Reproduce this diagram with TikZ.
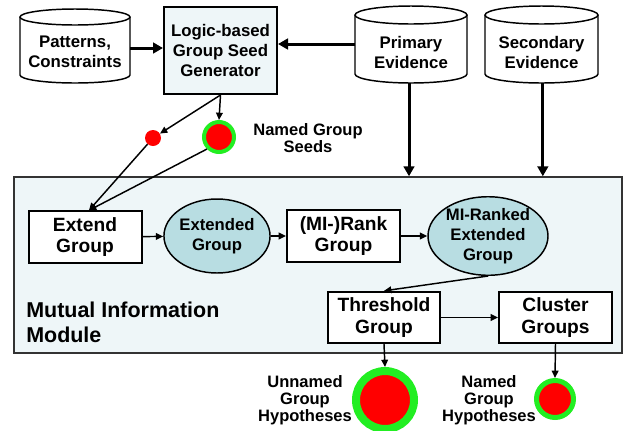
\documentclass[tikz,border=0pt]{standalone}
\usepackage{fontspec}
\setmainfont{Liberation Sans}
\usetikzlibrary{arrows.meta,shapes.geometric}
\definecolor{boxfill}{HTML}{EEF6F8}
\definecolor{ellfill}{HTML}{B8DDE2}
\definecolor{seedgreen}{HTML}{22EE22}
\tikzset{
  cylline/.style={draw=black, line width=1.1pt, fill=white},
  cyltext/.style={inner sep=0pt, minimum height=48pt, align=center, font=\fontsize{12.6pt}{15pt}\selectfont\bfseries},
  procbox/.style={draw=black, line width=1.5pt, fill=white, inner sep=0pt, align=center, minimum width=84.75pt, minimum height=38.5pt, font=\fontsize{14.4pt}{16.3pt}\selectfont\bfseries},
  ellnode/.style={ellipse, draw=black, line width=1.1pt, fill=ellfill, inner sep=0pt, align=center, font=\fontsize{12.5pt}{15pt}\selectfont\bfseries},
  lbl/.style={inner sep=0pt, align=center, font=\fontsize{12.4pt}{12.8pt}\selectfont\bfseries},
  thickarr/.style={line width=2.25pt, -{Triangle[length=7.5pt,width=8pt]}},
  thinarr/.style={line width=1.1pt, -{Triangle[length=5.5pt,width=5pt]}},
  seed/.style={circle, fill=red, draw=seedgreen, inner sep=0pt},
}
\begin{document}
\begin{tikzpicture}[x=0.75pt,y=0.75pt]
\useasboundingbox (0,0) rectangle (625,-430);
% module
\node[draw=black!80, line width=1.1pt, fill=boxfill, minimum width=456pt, minimum height=132pt, inner sep=0pt] (module) at (318,-265) {};
\node[anchor=west, inner sep=0pt, align=left, font=\fontsize{16.1pt}{18.75pt}\selectfont\bfseries] (mimtext) at (26,-322) {Mutual Information\\Module};
% cylinders
\draw[cylline] (20,-17) -- (20,-75) arc[start angle=180, end angle=360, x radius=55, y radius=8] -- (130,-17);
\draw[cylline] (75,-17) ellipse[x radius=55, y radius=8];
\node[cyltext, minimum width=82.5pt] (pat) at (75,-52) {Patterns,\\Constraints};
\draw[cylline] (355,-15) -- (355,-74) arc[start angle=180, end angle=360, x radius=56, y radius=9] -- (467,-15);
\draw[cylline] (411,-15) ellipse[x radius=56, y radius=9];
\node[cyltext, minimum width=84pt] (prim) at (411,-52) {Primary\\Evidence};
\draw[cylline] (485,-15) -- (485,-74) arc[start angle=180, end angle=360, x radius=56.5, y radius=9] -- (598,-15);
\draw[cylline] (541.5,-15) ellipse[x radius=56.5, y radius=9];
\node[cyltext, minimum width=84.75pt] (sec) at (541.5,-52) {Secondary\\Evidence};
% logic box
\node[draw=black, line width=1.5pt, fill=boxfill, inner sep=0pt, align=center, minimum width=84.75pt, minimum height=65.25pt, font=\fontsize{12.6pt}{15pt}\selectfont\bfseries] (logic) at (220.5,-50.5) {Logic-based\\Group Seed\\Generator};
% seeds
\node[circle, fill=red, inner sep=0pt, minimum size=12pt] (dot) at (153,-138) {};
\node[seed, line width=3pt, minimum size=22.5pt] (gseed) at (219,-137) {};
\node[lbl] (seedtxt) at (308,-138) {Named Group\\Seeds};
% process nodes
\node[procbox] (extend) at (85,-237) {Extend\\Group};
\node[ellnode, minimum width=75pt, minimum height=55.5pt] (extended) at (217,-236) {Extended\\Group};
\node[procbox] (rank) at (343.5,-236) {(MI-)Rank\\Group};
\node[ellnode, minimum width=90pt, minimum height=54pt] (miranked) at (488,-236) {MI-Ranked\\Extended\\Group};
\node[procbox, minimum width=84pt] (thresh) at (384,-317.5) {Threshold\\Group};
\node[procbox] (cluster) at (555.5,-317.5) {Cluster\\Groups};
% hypotheses
\node[seed, line width=6pt, minimum size=43.5pt] (unnamed) at (385,-400) {};
\node[seed, line width=3.75pt, minimum size=27.75pt] (named) at (555,-399) {};
\node[lbl] (untxt) at (305,-400) {Unnamed\\Group\\Hypotheses};
\node[lbl] (ntxt) at (489,-400) {Named\\Group\\Hypotheses};
% connectors
\draw[thickarr] ([yshift=3pt]pat.east) -- ([yshift=3pt]pat.east -| logic.west);
\draw[thickarr] ([yshift=6pt]prim.west -| 355,0) -- ([yshift=6pt]prim.west -| logic.east);
\draw[thickarr] ([xshift=-1.5pt]prim.south |- 0,-83) -- ([xshift=-1.5pt]prim.south |- module.north);
\draw[thickarr] ([xshift=1pt]sec.south |- 0,-83) -- ([xshift=1pt]sec.south |- module.north);
\draw[thinarr] (logic.south) -- (dot);
\draw[thinarr] (logic.south) -- (gseed.north);
\draw[thinarr] (dot) -- ([xshift=3pt]extend.north);
\draw[thinarr] (gseed.south west) -- ([xshift=3pt]extend.north);
\draw[thinarr] (extend) -- (extended);
\draw[thinarr] (extended) -- (rank);
\draw[thinarr] (rank) -- (miranked);
\draw[thinarr] (miranked.south) -- (thresh.north);
\draw[thinarr] (thresh) -- (cluster);
\draw[thinarr] (thresh.south) -- (unnamed.north);
\draw[thinarr] (cluster.south) -- (named.north);
\end{tikzpicture}
\end{document}
